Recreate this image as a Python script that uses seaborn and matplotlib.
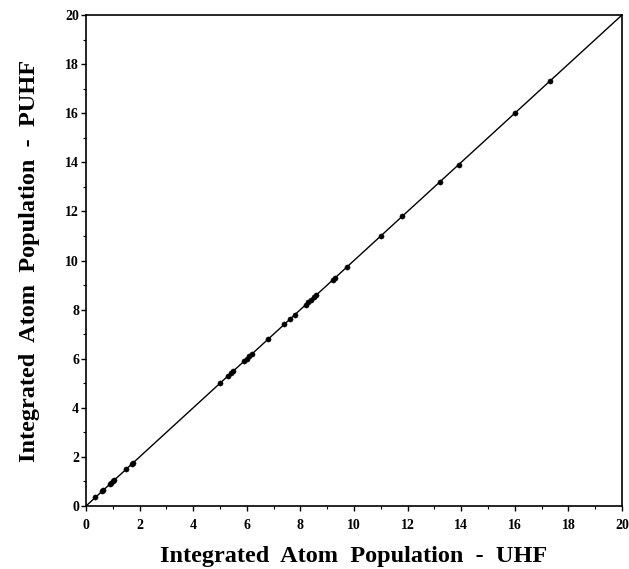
import matplotlib
matplotlib.use("Agg")
import matplotlib.pyplot as plt
import seaborn as sns
import pandas as pd
from matplotlib.ticker import MultipleLocator

# Data (atom populations, UHF vs PUHF)
uhf = [0.35, 0.6, 0.65, 0.9, 0.95, 1.0, 1.05, 1.5, 1.7, 1.75,
       5.0, 5.3, 5.4, 5.5, 5.9, 6.0, 6.1, 6.2, 6.8, 7.4, 7.6, 7.8,
       8.2, 8.3, 8.4, 8.5, 8.6, 9.2, 9.3, 9.75, 11.0, 11.8, 13.2, 13.9,
       16.0, 17.3]
puhf = [0.35, 0.6, 0.65, 0.9, 0.95, 1.0, 1.05, 1.5, 1.7, 1.75,
        5.0, 5.3, 5.4, 5.5, 5.9, 6.0, 6.1, 6.2, 6.8, 7.4, 7.6, 7.8,
        8.2, 8.3, 8.4, 8.5, 8.6, 9.2, 9.3, 9.75, 11.0, 11.8, 13.2, 13.9,
        16.0, 17.3]
diag_x = [0, 20]
diag_y = [0, 20]
ticks = [0, 2, 4, 6, 8, 10, 12, 14, 16, 18, 20]
xlabel = "Integrated  Atom  Population  -  UHF"
ylabel = "Integrated  Atom  Population  -  PUHF"

sns.set_theme(style="ticks")
plt.rcParams['font.family'] = ['Liberation Serif', 'DejaVu Serif']
plt.rcParams['font.weight'] = 'bold'
plt.rcParams['text.color'] = 'black'
plt.rcParams['axes.labelcolor'] = 'black'
plt.rcParams['xtick.color'] = 'black'
plt.rcParams['ytick.color'] = 'black'

df = pd.DataFrame({"UHF": uhf, "PUHF": puhf})
line_df = pd.DataFrame({"x": diag_x, "y": diag_y})

fig = plt.figure(figsize=(6.29, 5.69), dpi=100)
ax = fig.add_axes([86/629, 1-506/569, (622-86)/629, (506-15)/569])

sns.lineplot(data=line_df, x="x", y="y", ax=ax, color="black", lw=1.0)
sns.scatterplot(data=df, x="UHF", y="PUHF", ax=ax, color="black", s=14,
                edgecolor="black", linewidth=0.3, zorder=3)

ax.set_xlim(0, 20)
ax.set_ylim(0, 20)
ax.set_xticks(ticks)
ax.set_yticks(ticks)
ax.set_xticklabels([str(t) for t in ticks], fontsize=10, fontweight='bold', color='black')
ax.set_yticklabels([str(t) for t in ticks], fontsize=10, fontweight='bold', color='black')
ax.xaxis.set_minor_locator(MultipleLocator(1))
ax.yaxis.set_minor_locator(MultipleLocator(1))
ax.tick_params(which='major', direction='out', length=3.5, width=1.0, color='black')
ax.tick_params(which='minor', direction='out', length=2.5, width=0.8, color='black')
ax.tick_params(axis='x', which='both', pad=6)
ax.tick_params(axis='y', which='both', pad=1.5)
ax.tick_params(top=False, right=False, which='both')

for sp in ax.spines.values():
    sp.set_visible(True)
    sp.set_color('black')
    sp.set_linewidth(1.2)

ax.set_xlabel(xlabel, fontsize=17.5, fontweight='bold', labelpad=10, color='black')
ax.set_ylabel(ylabel, fontsize=17.5, fontweight='bold', labelpad=18, color='black')

fig.savefig("out.png", dpi=100, facecolor="white")
